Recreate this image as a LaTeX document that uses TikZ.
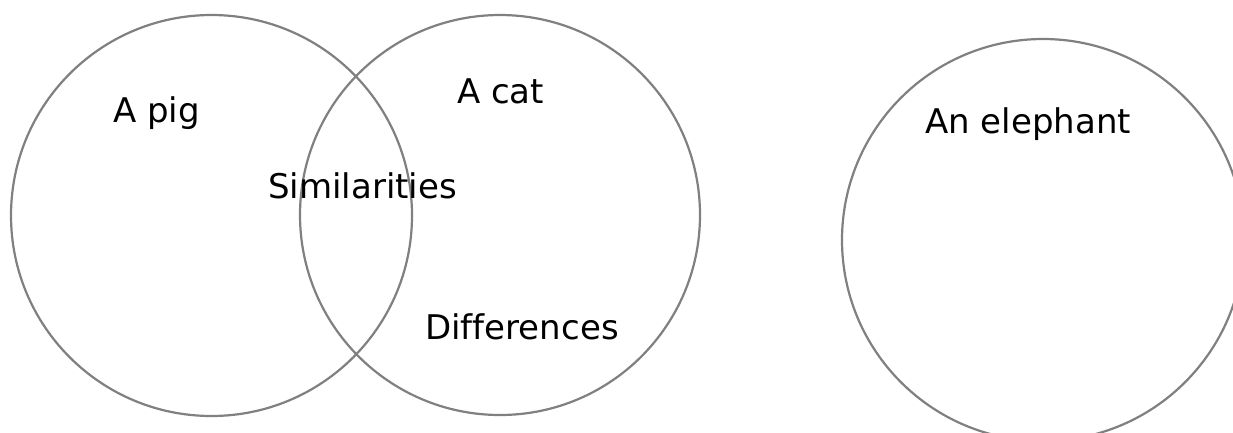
\documentclass[tikz,border=0pt]{standalone}
\usepackage{fontspec}
\setmainfont[Ligatures=NoCommon]{DejaVu Sans}
\begin{document}
\begin{tikzpicture}[x=1pt,y=-1pt,
  ring/.style={circle, draw=ringgray, line width=2.2pt, inner sep=0pt, outer sep=0pt},
  label/.style={anchor=base west, inner sep=0pt, font=\fontsize{34}{40}\selectfont}]
\definecolor{ringgray}{RGB}{128,128,128}
\useasboundingbox (0,0) rectangle (1233,432);
\fill[white] (0,0) rectangle (1233,432);
\node[ring, minimum size=401pt] (pig) at (211.5,215.5) {};
\node[ring, minimum size=400pt] (cat) at (500,215) {};
\node[ring, minimum size=402pt] (ele) at (1043,240) {};
\node[label] (tpig) at (113,122) {A pig};
\node[label] (tcat) at (457,103.5) {A cat};
\node[label] (tsim) at (268,198) {Similarities};
\node[label] (tdif) at (425,339) {Differences};
\node[label] (tele) at (925,133) {An elephant};
\end{tikzpicture}
\end{document}
